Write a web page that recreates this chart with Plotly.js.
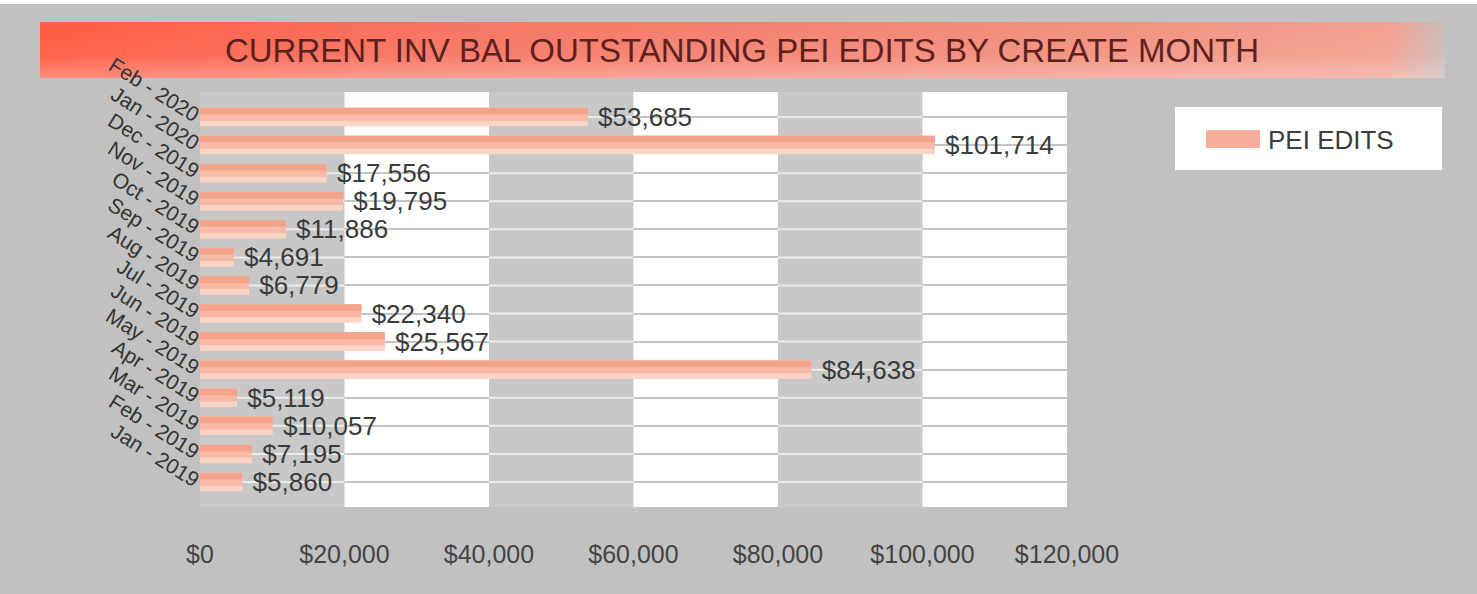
<!DOCTYPE html>
<html>
<head>
<meta charset="utf-8">
<script src="https://cdn.plot.ly/plotly-3.0.1.min.js"></script>
<style>html,body{margin:0;padding:0;background:#c1c1c1;}#chart{width:1477px;height:594px;}</style>
</head>
<body>
<div id="chart"></div>
<script>
// ---- data ----
const categories = ['Feb - 2020','Jan - 2020','Dec - 2019','Nov - 2019','Oct - 2019','Sep - 2019','Aug - 2019','Jul - 2019','Jun - 2019','May - 2019','Apr - 2019','Mar - 2019','Feb - 2019','Jan - 2019'];
const values = [53685,101714,17556,19795,11886,4691,6779,22340,25567,84638,5119,10057,7195,5860];
const valueLabels = values.map(v => ' $' + v.toLocaleString('en-US'));
const xTickVals = [0,20000,40000,60000,80000,100000,120000];
const xTickText = ['$0','$20,000','$40,000','$60,000','$80,000','$100,000','$120,000'];
const seriesName = 'PEI EDITS';
const chartTitle = 'CURRENT INV BAL OUTSTANDING PEI EDITS BY CREATE MONTH';

// ---- geometry helpers (pixel -> paper) ----
const L = 200, R = 1067, T = 92, B = 507, W = 1477, H = 594;
const px = x => (x - L) / (R - L);
const py = y => (B - y) / (B - T);
const FONT = 'Liberation Sans, Arial, sans-serif';

// banner gradient
const bannerSvg = "<svg xmlns='http://www.w3.org/2000/svg' width='1405' height='56'>" +
 "<defs><linearGradient id='h' x1='0' x2='1' y1='0' y2='0'>" +
 "<stop offset='0' stop-color='#ff5b40'/><stop offset='0.3' stop-color='#f77563'/>" +
 "<stop offset='0.75' stop-color='#f2917f'/><stop offset='0.96' stop-color='#f3a090'/>" +
 "<stop offset='1' stop-color='#f3a090' stop-opacity='0.2'/></linearGradient>" +
 "<linearGradient id='v' x1='0' x2='0' y1='0' y2='1'><stop offset='0' stop-color='#ffffff' stop-opacity='0'/>" +
 "<stop offset='0.6' stop-color='#ffffff' stop-opacity='0.06'/><stop offset='1' stop-color='#ffffff' stop-opacity='0.3'/></linearGradient></defs>" +
 "<rect width='1405' height='56' fill='url(#h)'/><rect width='1405' height='56' fill='url(#v)'/></svg>";

const shapes = [];
// top white strip
shapes.push({type:'rect', xref:'paper', yref:'paper', x0:px(0), x1:px(W), y0:py(4), y1:py(0), fillcolor:'#ffffff', line:{width:0}, layer:'below'});
// white vertical bands
[[20000,40000],[60000,80000],[100000,120000]].forEach(b => {
  shapes.push({type:'rect', xref:'x', yref:'paper', x0:b[0], x1:b[1], y0:0, y1:1, fillcolor:'#ffffff', line:{width:0}, layer:'below'});
});
// light grid lines over the grey bands
[[0,20000],[40000,60000],[80000,100000]].forEach(b => {
  categories.forEach(c => {
    shapes.push({type:'line', xref:'x', yref:'y', x0:b[0], x1:b[1], y0:c, y1:c, line:{color:'#ececec', width:2}, layer:'between'});
  });
});
// legend box
shapes.push({type:'rect', xref:'paper', yref:'paper', x0:px(1175), x1:px(1442), y0:py(170), y1:py(107), fillcolor:'#ffffff', line:{width:0}, layer:'below'});

const traces = [
  {type:'bar', orientation:'h', y:categories, x:values, name:seriesName,
   width:0.66, offset:-0.33, marker:{color:'#fbd4c6'},
   text:valueLabels, textposition:'outside', constraintext:'none', cliponaxis:false,
   textfont:{size:26, color:'#3a3a3a', family:FONT}, hoverinfo:'skip', showlegend:true},
  {type:'bar', orientation:'h', y:categories, x:values, name:seriesName,
   width:0.46, offset:-0.33, marker:{color:'#f8b9a6'}, hoverinfo:'skip', showlegend:false},
  {type:'bar', orientation:'h', y:categories, x:values, name:seriesName,
   width:0.24, offset:-0.33, marker:{color:'#f3a28c'}, hoverinfo:'skip', showlegend:false}
];

const layout = {
  width:W, height:H,
  paper_bgcolor:'#c1c1c1', plot_bgcolor:'#c8c8c8',
  margin:{l:L, r:W-R, t:T, b:H-B, pad:0},
  barmode:'overlay',
  font:{family:FONT, color:'#3a3a3a'},
  title:{text:chartTitle, font:{size:33, color:'#5e1f1f', family:FONT}, xref:'container', yref:'container', x:742/W, y:1-50/H, xanchor:'center', yanchor:'middle'},
  xaxis:{range:[0,120000], tickvals:xTickVals, ticktext:xTickText, showgrid:false, zeroline:false, showline:false,
         ticks:'outside', ticklen:25, tickcolor:'rgba(0,0,0,0)', tickfont:{size:25, color:'#444444', family:FONT}, fixedrange:true},
  yaxis:{type:'category', categoryorder:'array', categoryarray:categories, range:[13.89,-0.89],
         showgrid:true, gridcolor:'#c4c4c4', gridwidth:2, zeroline:false, showline:false, ticks:'',
         tickangle:32, tickfont:{size:21, color:'#333333', family:FONT}, fixedrange:true, automargin:false},
  legend:{x:px(1198), y:py(139), xanchor:'left', yanchor:'middle', bgcolor:'rgba(0,0,0,0)', borderwidth:0,
          font:{size:26, color:'#3c3c3c', family:FONT}, itemwidth:60},
  images:[{source:'data:image/svg+xml;charset=utf-8,' + encodeURIComponent(bannerSvg), xref:'paper', yref:'paper',
           x:px(40), y:py(22), sizex:1405/(R-L), sizey:56/(B-T), xanchor:'left', yanchor:'top', sizing:'stretch', layer:'below'}],
  shapes:shapes,
  showlegend:true
};

Plotly.newPlot('chart', traces, layout, {displayModeBar:false, staticPlot:true}).then(() => {
  document.querySelectorAll('.legend .legendpoints path').forEach(p => {
    p.setAttribute('d', 'M-27,-9H27V9H-27Z');
    p.style.fill = '#f6ad99';
  });
});
</script>
</body>
</html>
